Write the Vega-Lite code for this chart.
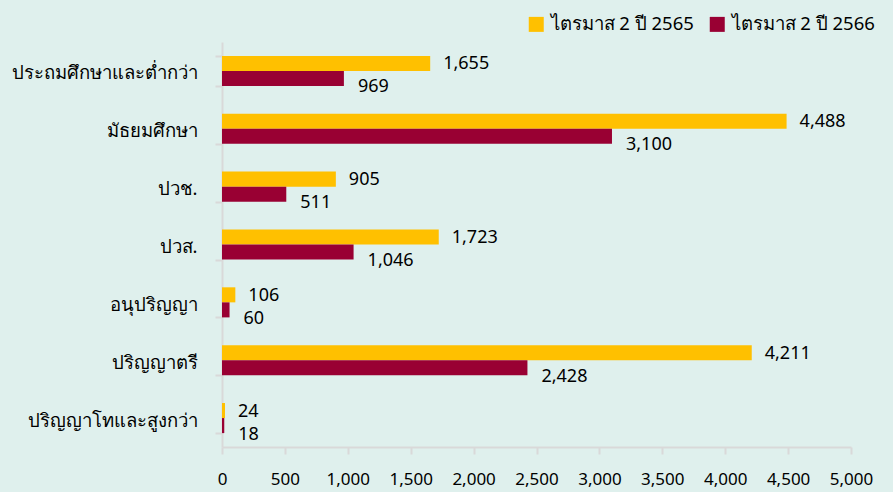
{
  "$schema": "https://vega.github.io/schema/vega-lite/v6.json",
  "autosize": {"type": "none"},
  "width": 629,
  "height": 405,
  "padding": {"left": 222, "top": 42, "right": 42, "bottom": 45},
  "background": "#dff0ed",
  "config": {
    "view": {"stroke": null},
    "font": "Noto Sans",
    "axis": {"labelFont": "Noto Sans", "labelFontSize": 17, "labelColor": "#000000", "domainColor": "#d9d9d9", "tickColor": "#d9d9d9", "domainWidth": 2, "tickWidth": 2, "grid": false, "title": null}
  },
  "data": {
    "values": [
      {"level": "ประถมศึกษาและต่ำกว่า", "period": "ไตรมาส 2 ปี 2565", "value": 1655},
      {"level": "ประถมศึกษาและต่ำกว่า", "period": "ไตรมาส 2 ปี 2566", "value": 969},
      {"level": "มัธยมศึกษา", "period": "ไตรมาส 2 ปี 2565", "value": 4488},
      {"level": "มัธยมศึกษา", "period": "ไตรมาส 2 ปี 2566", "value": 3100},
      {"level": "ปวช.", "period": "ไตรมาส 2 ปี 2565", "value": 905},
      {"level": "ปวช.", "period": "ไตรมาส 2 ปี 2566", "value": 511},
      {"level": "ปวส.", "period": "ไตรมาส 2 ปี 2565", "value": 1723},
      {"level": "ปวส.", "period": "ไตรมาส 2 ปี 2566", "value": 1046},
      {"level": "อนุปริญญา", "period": "ไตรมาส 2 ปี 2565", "value": 106},
      {"level": "อนุปริญญา", "period": "ไตรมาส 2 ปี 2566", "value": 60},
      {"level": "ปริญญาตรี", "period": "ไตรมาส 2 ปี 2565", "value": 4211},
      {"level": "ปริญญาตรี", "period": "ไตรมาส 2 ปี 2566", "value": 2428},
      {"level": "ปริญญาโทและสูงกว่า", "period": "ไตรมาส 2 ปี 2565", "value": 24},
      {"level": "ปริญญาโทและสูงกว่า", "period": "ไตรมาส 2 ปี 2566", "value": 18}
    ]
  },
  "encoding": {
    "y": {
      "field": "level", "type": "nominal", "sort": null,
      "scale": {"paddingInner": 0.48, "paddingOuter": 0.24},
      "axis": {"labelPadding": 18, "tickSize": 7, "tickBand": "extent", "labelFontSize": 18.5, "labelBaseline": "middle", "labelOffset": 2, "labelLimit": 0}
    },
    "x": {
      "field": "value", "type": "quantitative",
      "scale": {"domain": [0, 5000], "nice": false},
      "axis": {"values": [0, 500, 1000, 1500, 2000, 2500, 3000, 3500, 4000, 4500, 5000], "format": ",d", "tickSize": 7, "labelPadding": 17, "labelFlush": false, "labelFontSize": 17}
    },
    "yOffset": {"field": "period", "type": "nominal", "scale": {"paddingInner": 0}}
  },
  "layer": [
    {
      "mark": {"type": "bar"},
      "encoding": {
        "color": {
          "field": "period", "type": "nominal",
          "scale": {"range": ["#ffc000", "#990033"]},
          "legend": {"title": null, "orient": "none", "direction": "horizontal", "legendX": 305, "legendY": -27, "symbolType": "square", "symbolSize": 225, "symbolStrokeWidth": 0, "labelFontSize": 18.5, "labelFont": "Noto Sans", "labelColor": "#000000", "columnPadding": 14, "labelOffset": 5, "labelLimit": 0}
        }
      }
    },
    {
      "transform": [{"filter": "datum.period === 'ไตรมาส 2 ปี 2565'"}],
      "mark": {"type": "text", "align": "left", "baseline": "middle", "dx": 13, "dy": 1, "fontSize": 18, "font": "Noto Sans", "color": "#000000"},
      "encoding": {"text": {"field": "value", "type": "quantitative", "format": ","}}
    },
    {
      "transform": [{"filter": "datum.period === 'ไตรมาส 2 ปี 2566'"}],
      "mark": {"type": "text", "align": "left", "baseline": "middle", "dx": 14, "dy": 9, "fontSize": 18, "font": "Noto Sans", "color": "#000000"},
      "encoding": {"text": {"field": "value", "type": "quantitative", "format": ","}}
    }
  ]
}
